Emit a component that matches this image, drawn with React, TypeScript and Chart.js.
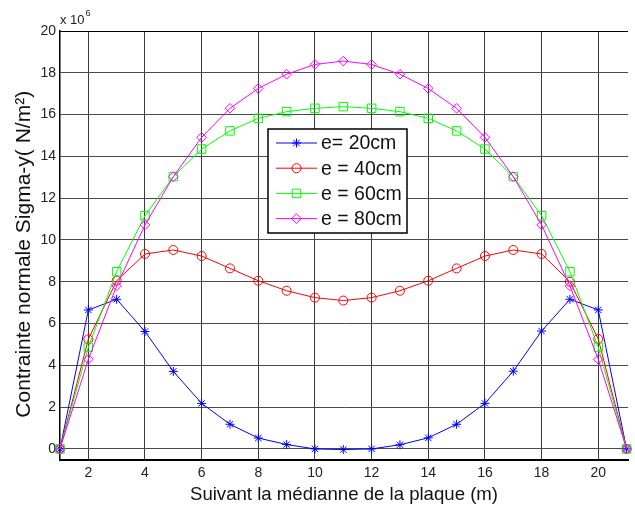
import React, { useEffect, useRef } from 'react';
import { Chart, registerables } from 'chart.js';
import { drawPoint } from 'chart.js/helpers';

Chart.register(...registerables);

// Position along the median of the plate (m)
const positions = [1, 2, 3, 4, 5, 6, 7, 8, 9, 10, 11, 12, 13, 14, 15, 16, 17, 18, 19, 20, 21];

// Normal stress Sigma-y (x 10^6 N/m^2)
const e20 = [0, 6.65, 7.16, 5.62, 3.71, 2.18, 1.18, 0.52, 0.21, 0.0, -0.03, 0.0, 0.2, 0.53, 1.18, 2.18, 3.72, 5.64, 7.16, 6.65, 0];
const e40 = [0, 5.25, 8.05, 9.33, 9.52, 9.23, 8.64, 8.05, 7.57, 7.24, 7.1, 7.24, 7.57, 8.05, 8.64, 9.23, 9.52, 9.33, 8.0, 5.26, 0];
const e60 = [0, 4.87, 8.48, 11.16, 13.03, 14.35, 15.22, 15.82, 16.14, 16.3, 16.38, 16.3, 16.14, 15.82, 15.22, 14.35, 13.03, 11.16, 8.48, 4.87, 0];
const e80 = [0, 4.29, 7.8, 10.72, 13.03, 14.91, 16.3, 17.25, 17.93, 18.4, 18.56, 18.4, 17.93, 17.25, 16.3, 14.91, 13.03, 10.72, 7.8, 4.29, 0];

const seriesLabels = ['e= 20cm', 'e = 40cm', 'e = 60cm', 'e = 80cm'];
const seriesColors = ['#0000ff', '#ff0000', '#00ff00', '#ff00ff'];
const seriesMarkers = ['star', 'circle', 'rect', 'rectRot'];
const seriesRadius = [4.5, 4.5, 6, 4.8];

const xTicks = [2, 4, 6, 8, 10, 12, 14, 16, 18, 20];
const yTicks = [0, 2, 4, 6, 8, 10, 12, 14, 16, 18, 20];

const FONT = '"Liberation Sans", Arial, Helvetica, sans-serif';

const framePlugin = {
  id: 'frame',
  beforeDatasetsDraw(chart: any) {
    const { ctx, chartArea } = chart;
    ctx.save();
    ctx.strokeStyle = '#000';
    ctx.lineWidth = 1;
    ctx.beginPath();
    ctx.moveTo(chartArea.left, chartArea.top + 0.5);
    ctx.lineTo(chartArea.right, chartArea.top + 0.5);
    ctx.stroke();
    ctx.restore();
  },
  afterDraw(chart: any) {
    const { ctx, chartArea } = chart;
    ctx.save();
    ctx.fillStyle = '#222';
    ctx.textBaseline = 'alphabetic';
    ctx.textAlign = 'left';
    ctx.font = `13px ${FONT}`;
    ctx.fillText('x 10', chartArea.left, 24);
    const w = ctx.measureText('x 10').width;
    ctx.font = `9px ${FONT}`;
    ctx.fillText('6', chartArea.left + w + 1, 16);
    ctx.restore();
  },
};

const legendPlugin = {
  id: 'boxLegend',
  afterDatasetsDraw(chart: any) {
    const { ctx } = chart;
    const x0 = 268, y0 = 129, w = 139, h = 104;
    ctx.save();
    ctx.fillStyle = '#fff';
    ctx.fillRect(x0, y0, w, h);
    ctx.strokeStyle = '#000';
    ctx.lineWidth = 1.5;
    ctx.strokeRect(x0, y0, w, h);
    chart.data.datasets.forEach((ds: any, i: number) => {
      const y = y0 + 14 + i * 25.2;
      ctx.strokeStyle = ds.borderColor;
      ctx.lineWidth = 1;
      ctx.beginPath();
      ctx.moveTo(x0 + 8, y);
      ctx.lineTo(x0 + 49, y);
      ctx.stroke();
      ctx.fillStyle = 'rgba(0,0,0,0)';
      drawPoint(ctx, { pointStyle: ds.pointStyle, radius: ds.pointRadius, borderWidth: 1, rotation: 0 } as any, x0 + 28.5, y);
      ctx.fillStyle = '#111';
      ctx.font = `19.5px ${FONT}`;
      ctx.textBaseline = 'middle';
      ctx.textAlign = 'left';
      ctx.fillText(ds.label, x0 + 53, y + 1);
    });
    ctx.restore();
  },
};

export default function App() {
  const ref = useRef<HTMLCanvasElement>(null);
  useEffect(() => {
    const canvas = ref.current;
    if (!canvas) return;
    const series = [e20, e40, e60, e80];
    const chart = new Chart(canvas, {
      type: 'line',
      data: {
        datasets: series.map((vals, i) => ({
          label: seriesLabels[i],
          data: positions.map((p, j) => ({ x: p, y: vals[j] })),
          borderColor: seriesColors[i],
          backgroundColor: 'rgba(0,0,0,0)',
          borderWidth: 1,
          pointStyle: seriesMarkers[i] as any,
          pointRadius: seriesRadius[i],
          pointBorderWidth: 1,
          pointBorderColor: seriesColors[i],
          pointBackgroundColor: 'rgba(0,0,0,0)',
          tension: 0,
          fill: false,
          clip: false as any,
          order: 3 - i,
        })),
      },
      options: {
        responsive: false,
        animation: false,
        events: [],
        layout: { padding: { top: 31, right: 0, left: 0, bottom: 0 } },
        plugins: { legend: { display: false }, tooltip: { enabled: false } },
        scales: {
          x: {
            type: 'linear',
            min: 1,
            max: 21.05,
            afterBuildTicks: (s: any) => {
              s.ticks = xTicks.map((v) => ({ value: v }));
            },
            afterFit: (s: any) => {
              s.height = 46;
            },
            grid: { color: '#3a3a3a', lineWidth: 1, drawTicks: false },
            border: { display: true, color: '#000', width: 2 },
            ticks: { color: '#222', font: { family: FONT, size: 14 }, padding: 5, maxRotation: 0, autoSkip: false },
            title: {
              display: true,
              text: 'Suivant la médianne de la plaque (m)',
              color: '#111',
              font: { family: FONT, size: 18.6 },
              padding: { top: 3, bottom: 0 },
            },
          },
          y: {
            type: 'linear',
            min: -0.53,
            max: 20,
            afterBuildTicks: (s: any) => {
              s.ticks = yTicks.map((v) => ({ value: v }));
            },
            afterFit: (s: any) => {
              s.width = 60;
            },
            grid: {
              color: (c: any) => (c.tick && c.tick.value === 20 ? '#000' : '#4a4a4a'),
              lineWidth: 1,
              drawTicks: false,
            },
            border: { display: true, color: '#000', width: 1.5 },
            ticks: { color: '#222', font: { family: FONT, size: 14 }, padding: 4, autoSkip: false },
            title: {
              display: true,
              text: 'Contrainte normale Sigma-y( N/m²)   ',
              color: '#111',
              font: { family: FONT, size: 21 },
              padding: { top: 12, bottom: 0 },
            },
          },
        },
      },
      plugins: [framePlugin, legendPlugin],
    } as any);
    return () => chart.destroy();
  }, []);
  return (
    <div style={{ position: 'fixed', left: 0, top: 0, width: 635, height: 506, background: '#fff' }}>
      <canvas ref={ref} width={635} height={506} style={{ display: 'block' }} />
    </div>
  );
}
